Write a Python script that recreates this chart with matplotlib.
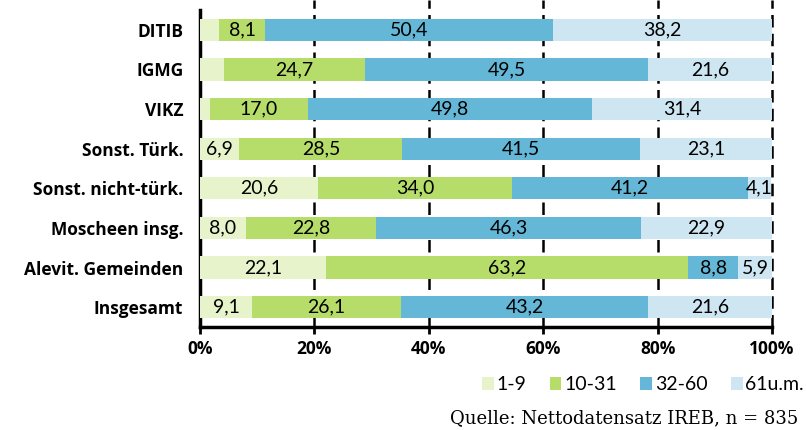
import matplotlib
matplotlib.use("Agg")
import matplotlib.pyplot as plt
from matplotlib.patches import Patch
import numpy as np

categories = ["DITIB", "IGMG", "VIKZ", "Sonst. Türk.", "Sonst. nicht-türk.",
              "Moscheen insg.", "Alevit. Gemeinden", "Insgesamt"]
series_names = ["1-9", "10-31", "32-60", "61u.m."]
v_1_9 = [3.3, 4.2, 1.8, 6.9, 20.6, 8.0, 22.1, 9.1]
v_10_31 = [8.1, 24.7, 17.0, 28.5, 34.0, 22.8, 63.2, 26.1]
v_32_60 = [50.4, 49.5, 49.8, 41.5, 41.2, 46.3, 8.8, 43.2]
v_61 = [38.2, 21.6, 31.4, 23.1, 4.1, 22.9, 5.9, 21.6]
# first-segment values that are not printed in the reference
hidden_first = ["DITIB", "IGMG", "VIKZ"]
x_ticks = [0, 20, 40, 60, 80, 100]
source = "Quelle: Nettodatensatz IREB, n = 835"

colors = ["#e6f3cb", "#b6dc6a", "#64b7d6", "#cde6f1"]
plt.rcParams['font.family'] = ['Lato', 'DejaVu Sans']

fig = plt.figure(figsize=(8.06, 4.30), dpi=100)
ax = fig.add_axes([200/806, 1-327/430, 572/806, 317/430])

series = [v_1_9, v_10_31, v_32_60, v_61]
y = np.arange(len(categories))
left = np.zeros(len(categories))
for si, (vals, col) in enumerate(zip(series, colors)):
    vals = np.array(vals)
    ax.barh(y, vals, left=left, height=0.56, color=col, edgecolor='none', zorder=3)
    for i, v in enumerate(vals):
        if si == 0 and categories[i] in hidden_first:
            continue
        ax.text(left[i] + v/2, y[i], f"{v:.1f}".replace('.', ','), ha='center',
                va='center', fontsize=14, color='black', zorder=4)
    left += vals

ax.set_xlim(0, 100)
ax.set_ylim(len(categories) - 0.5, -0.5)
ax.set_yticks(y)
ax.set_yticklabels(categories, fontsize=12.5, fontweight='bold',
                   family=['Open Sans', 'DejaVu Sans'])
ax.set_xticks(x_ticks)
ax.set_xticklabels([f"{t}%" for t in x_ticks], fontsize=12.5, fontweight='bold',
                   family=['Open Sans', 'DejaVu Sans'])
ax.tick_params(axis='y', length=0, pad=12)
ax.tick_params(axis='x', length=5, width=2, pad=4)
for t in x_ticks[1:]:
    ax.plot([t, t], [7.5, -0.75], color='black', lw=1.8, ls=(0, (5, 2.5)), zorder=1,
            clip_on=False)
for s in ['top', 'right']:
    ax.spines[s].set_visible(False)
ax.spines['left'].set_linewidth(2.5)
ax.spines['bottom'].set_linewidth(2.5)

handles = [Patch(facecolor=c, edgecolor='none') for c in colors]
fig.legend(handles, series_names, loc='center right', bbox_to_anchor=(1.0, 1-385/430),
           ncol=4, frameon=False, fontsize=14, handlelength=0.6, handleheight=0.6,
           handletextpad=0.15, columnspacing=1.2, borderaxespad=0.0, borderpad=0.1)
fig.text(798/806, 1-418/430, source, ha='right', va='center', fontsize=13,
         family=['DejaVu Serif'])

fig.savefig("out.png", dpi=100)
